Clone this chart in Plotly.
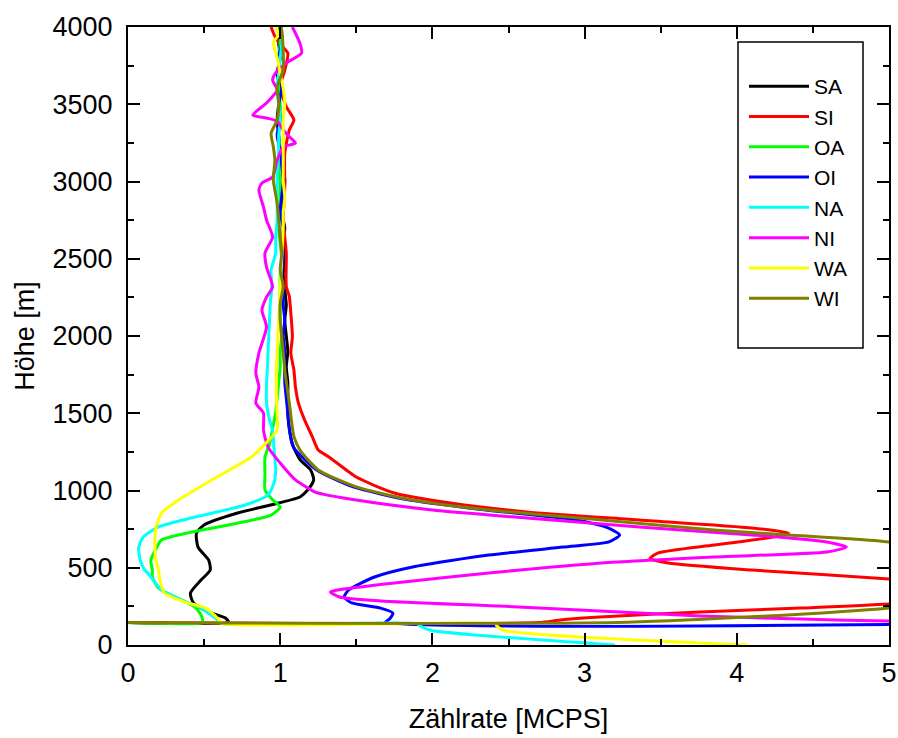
import plotly.graph_objects as go

# ---------------- data ----------------
# SA (black)
sa_y = [4000, 3900, 3800, 3700, 3600, 3500, 3400, 3300, 3200, 3100, 3000, 2900, 2800, 2700,
        2600, 2500, 2400, 2300, 2200, 2100, 2000, 1900, 1800, 1700, 1600, 1500, 1400, 1300,
        1200, 1133, 1068, 1003, 958, 919, 854, 777, 725, 634, 550, 485, 421, 336, 272, 214,
        175, 149, 145]
sa_x = [1.00, 0.99, 1.00, 0.98, 1.00, 0.99, 0.98, 0.99, 1.00, 1.02, 1.03, 1.02, 1.01, 1.03,
        1.02, 1.03, 1.02, 1.03, 1.04, 1.03, 1.04, 1.05, 1.04, 1.05, 1.05, 1.05, 1.06, 1.08,
        1.13, 1.20, 1.22, 1.18, 1.13, 0.99, 0.72, 0.50, 0.45, 0.46, 0.53, 0.54, 0.48, 0.41,
        0.43, 0.53, 0.64, 0.66, 0.00]

# SI (red)
si_y = [4000, 3950, 3900, 3830, 3720, 3613, 3485, 3398, 3333, 3182, 2967, 2751, 2535, 2320,
        2255, 2147, 1996, 1888, 1780, 1672, 1565, 1457, 1350, 1262, 1217, 1087, 984, 919,
        861, 809, 757, 725, 700, 647, 595, 560, 531, 485, 427, 340, 265, 239, 214, 181, 162,
        145, 145]
si_x = [0.94, 0.96, 0.99, 1.05, 1.03, 1.00, 1.04, 1.09, 1.06, 1.03, 1.03, 1.02, 1.04, 1.04,
        1.06, 1.07, 1.08, 1.07, 1.09, 1.10, 1.12, 1.16, 1.21, 1.25, 1.32, 1.50, 1.75, 2.12,
        2.62, 3.36, 4.10, 4.34, 4.25, 3.85, 3.48, 3.43, 3.55, 4.10, 5.00, 6.00, 5.00, 4.42,
        3.76, 3.10, 2.84, 2.70, 0.00]

# OA (green)
oa_y = [4000, 3900, 3800, 3700, 3600, 3500, 3400, 3300, 3200, 3100, 3000, 2900, 2800, 2700,
        2600, 2500, 2400, 2300, 2200, 2100, 2000, 1900, 1800, 1700, 1600, 1500, 1400, 1300,
        1217, 1100, 1003, 940, 893, 841, 777, 725, 680, 615, 550, 485, 440, 369, 311, 246,
        194, 162, 145, 145]
oa_x = [1.01, 1.00, 0.99, 1.00, 0.99, 1.00, 1.00, 0.99, 1.00, 0.99, 1.00, 1.00, 1.00, 0.99,
        1.00, 1.01, 1.00, 1.00, 1.00, 1.00, 1.01, 1.00, 1.00, 0.99, 0.98, 0.97, 0.95, 0.93,
        0.90, 0.90, 0.90, 0.95, 1.00, 0.94, 0.66, 0.39, 0.22, 0.18, 0.15, 0.16, 0.16, 0.20,
        0.31, 0.44, 0.48, 0.49, 0.49, 0.00]

# OI (blue)
oi_y = [4000, 3900, 3800, 3700, 3600, 3500, 3400, 3300, 3200, 3100, 3000, 2900, 2800, 2700,
        2600, 2500, 2400, 2300, 2200, 2100, 2000, 1900, 1800, 1700, 1600, 1500, 1400, 1300,
        1262, 1133, 1023, 938, 874, 809, 760, 712, 667, 634, 582, 505, 440, 356, 311, 272,
        239, 207, 170, 145, 143]
oi_x = [1.00, 1.01, 0.99, 1.00, 1.01, 0.99, 1.00, 0.98, 1.00, 1.01, 1.02, 1.01, 1.00, 1.02,
        1.01, 1.02, 1.01, 1.02, 1.02, 1.03, 1.02, 1.03, 1.03, 1.03, 1.04, 1.05, 1.06, 1.08,
        1.10, 1.24, 1.48, 1.85, 2.35, 2.95, 3.15, 3.23, 3.16, 2.86, 2.37, 1.87, 1.62, 1.45,
        1.42, 1.47, 1.66, 1.74, 1.72, 1.69, 6.00]

# NA (cyan)
na_y = [4000, 3900, 3800, 3700, 3613, 3500, 3398, 3300, 3182, 3050, 2967, 2860, 2751, 2640,
        2535, 2427, 2320, 2210, 2104, 2000, 1888, 1780, 1672, 1565, 1457, 1391, 1262, 1133,
        1050, 971, 906, 828, 764, 699, 630, 550, 485, 466, 356, 291, 239, 162, 139, 139, 129,
        97, 0]
na_x = [1.00, 1.01, 1.00, 0.99, 0.98, 0.99, 1.00, 0.99, 0.99, 0.98, 0.98, 0.98, 0.98, 0.97,
        0.97, 0.94, 0.945, 0.935, 0.93, 0.925, 0.92, 0.915, 0.91, 0.91, 0.93, 0.95, 0.96, 0.97,
        0.96, 0.92, 0.77, 0.44, 0.20, 0.10, 0.07, 0.08, 0.11, 0.13, 0.22, 0.35, 0.48, 0.59,
        0.62, 1.90, 1.91, 1.98, 3.20]

# NI (magenta)
ni_y = [4000, 3894, 3831, 3767, 3703, 3657, 3592, 3508, 3430, 3411, 3390, 3333, 3290, 3249,
        3223, 3139, 3029, 2990, 2945, 2835, 2751, 2641, 2537, 2446, 2317, 2252, 2168, 2058,
        1890, 1760, 1670, 1566, 1501, 1391, 1281, 1178, 1068, 1048, 990, 938, 874, 822, 764,
        712, 667, 634, 602, 570, 531, 466, 401, 356, 343, 311, 285, 252, 220, 188, 168, 155,
        150]
ni_x = [1.08, 1.13, 1.14, 1.04, 0.97, 0.95, 0.98, 0.91, 0.82, 0.91, 0.98, 1.02, 1.06, 1.10,
        1.02, 0.98, 0.95, 0.88, 0.86, 0.89, 0.91, 0.95, 0.90, 0.91, 0.95, 0.91, 0.88, 0.91,
        0.86, 0.84, 0.86, 0.84, 0.89, 0.89, 0.92, 1.00, 1.10, 1.13, 1.23, 1.50, 2.00, 2.62,
        3.36, 4.10, 4.59, 4.72, 4.59, 3.85, 3.11, 2.37, 1.75, 1.38, 1.33, 1.39, 1.66, 2.44,
        3.10, 3.76, 4.42, 5.00, 6.00]

# WA (yellow)
wa_y = [4000, 3950, 3900, 3800, 3700, 3600, 3500, 3400, 3300, 3200, 3100, 3000, 2900, 2800,
        2700, 2600, 2500, 2400, 2300, 2200, 2100, 2000, 1900, 1800, 1700, 1600, 1500, 1391,
        1300, 1217, 1068, 938, 854, 744, 570, 485, 421, 336, 278, 239, 162, 138, 138, 129,
        97, 0]
wa_x = [0.97, 0.99, 0.955, 0.98, 1.00, 1.02, 1.03, 1.02, 1.02, 1.02, 1.02, 1.02, 1.03, 1.02,
        1.02, 1.015, 1.01, 1.005, 1.00, 0.995, 0.99, 0.985, 0.98, 0.975, 0.975, 0.975, 0.98,
        0.98, 0.90, 0.81, 0.55, 0.33, 0.22, 0.18, 0.18, 0.20, 0.21, 0.24, 0.37, 0.51, 0.60,
        0.62, 2.42, 2.42, 2.46, 4.07]

# WI (olive)
wi_y = [4000, 3980, 3829, 3721, 3613, 3505, 3398, 3312, 3225, 3139, 3010, 2859, 2643, 2535,
        2427, 2320, 2212, 2104, 1996, 1888, 1780, 1565, 1350, 1262, 1133, 1023, 938, 874, 809,
        744, 712, 667, 450, 240, 148, 145]
wi_x = [1.00, 1.01, 1.02, 1.02, 0.98, 0.99, 0.98, 0.94, 0.955, 0.965, 0.955, 0.98, 1.00, 1.01,
        1.00, 1.02, 1.00, 1.00, 1.01, 1.02, 1.03, 1.06, 1.09, 1.13, 1.25, 1.50, 1.87, 2.37,
        3.11, 3.85, 4.34, 5.00, 6.50, 5.00, 3.28, 0.00]

series_names = ["SA", "SI", "OA", "OI", "NA", "NI", "WA", "WI"]
series_colors = ["#000000", "#FF0000", "#00FF00", "#0000FF", "#00FFFF", "#FF00FF", "#FFFF00", "#808000"]
series_x = [sa_x, si_x, oa_x, oi_x, na_x, ni_x, wa_x, wi_x]
series_y = [sa_y, si_y, oa_y, oi_y, na_y, ni_y, wa_y, wi_y]

x_tick_vals = [0, 1, 2, 3, 4, 5]
y_tick_vals = [0, 500, 1000, 1500, 2000, 2500, 3000, 3500, 4000]

FONT = "Liberation Sans, Arial, sans-serif"

fig = go.Figure()
for name, color, xs, ys in zip(series_names, series_colors, series_x, series_y):
    fig.add_trace(go.Scatter(
        x=xs, y=ys, mode="lines", name=name,
        line=dict(color=color, width=3, shape="spline", smoothing=0.6),
    ))

axis_common = dict(
    showgrid=False, zeroline=False, showline=True, linecolor="black", linewidth=2,
    mirror="allticks", ticks="inside", ticklen=12, tickwidth=2, tickcolor="black",
    tickfont=dict(family=FONT, size=27, color="black"),
    automargin=False,
)

fig.update_xaxes(
    range=[0, 5], tickvals=x_tick_vals, ticklabelstandoff=3,
    minor=dict(dtick=0.5, ticks="inside", ticklen=6, tickwidth=2, tickcolor="black"),
    title=dict(text="Zählrate [MCPS]", font=dict(family=FONT, size=27, color="black"), standoff=22),
    **axis_common,
)
fig.update_yaxes(
    range=[0, 4000], tickvals=y_tick_vals, ticklabelstandoff=8,
    minor=dict(dtick=250, ticks="inside", ticklen=6, tickwidth=2, tickcolor="black"),
    title=dict(text="Höhe [m]", font=dict(family=FONT, size=27, color="black"), standoff=10),
    **axis_common,
)

# legend frame
fig.add_shape(type="rect", xref="paper", yref="paper",
              x0=(738 - 128) / 761, x1=(863 - 128) / 761,
              y0=(645 - 348) / 618, y1=(645 - 42) / 618,
              line=dict(color="black", width=1.5), fillcolor="white", layer="above")

fig.update_layout(
    width=898, height=738, autosize=False,
    margin=dict(l=128, r=9, t=27, b=93),
    paper_bgcolor="white", plot_bgcolor="white",
    showlegend=True,
    legend=dict(
        x=(744 - 128) / 761, y=(645 - 66) / 618, xanchor="left", yanchor="top",
        bgcolor="rgba(0,0,0,0)", borderwidth=0,
        font=dict(family=FONT, size=21, color="black"),
        itemwidth=60,
    ),
)

fig.write_html(
    "out.html",
    config={"displayModeBar": False},
    post_script="document.body.style.margin='0';document.body.style.overflow='hidden';",
)
